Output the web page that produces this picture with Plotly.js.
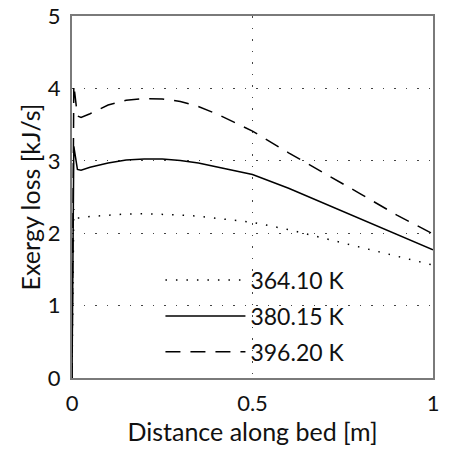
<!DOCTYPE html>
<html>
<head>
<meta charset="utf-8">
<script src="https://cdn.plot.ly/plotly-3.0.1.min.js"></script>
<style>html,body{margin:0;padding:0;background:#fff;}#chart{width:455px;height:452px;}</style>
</head>
<body>
<div id="chart"></div>
<script>
var xDist = [0, 0.005, 0.015, 0.025, 0.05, 0.1, 0.15, 0.2, 0.25, 0.3, 0.35, 0.4, 0.45, 0.5, 0.6, 0.7, 0.8, 0.9, 1.0];
var loss364 = [0, 2.33, 2.21, 2.21, 2.23, 2.25, 2.265, 2.27, 2.265, 2.25, 2.235, 2.21, 2.18, 2.15, 2.05, 1.93, 1.80, 1.68, 1.56];
var loss380 = [0, 3.20, 2.88, 2.87, 2.91, 2.97, 3.01, 3.025, 3.025, 3.005, 2.97, 2.92, 2.87, 2.81, 2.62, 2.41, 2.20, 1.99, 1.77];
var loss396 = [0, 4.05, 3.62, 3.60, 3.65, 3.77, 3.835, 3.86, 3.855, 3.82, 3.75, 3.65, 3.53, 3.41, 3.11, 2.83, 2.54, 2.25, 1.99];
var seriesNames = ['364.10 K', '380.15 K', '396.20 K'];
var xTicks = [0, 0.5, 1];
var yTicks = [0, 1, 2, 3, 4, 5];

var font = 'Lato, "Open Sans", sans-serif';
var traces = [
  {x: xDist, y: loss364, name: seriesNames[0], legendgroup: 'a', mode: 'lines', line: {color: '#000', width: 1.5, dash: '1.5px,9px'}},
  {x: xDist, y: loss380, name: seriesNames[1], legendgroup: 'b', mode: 'lines', line: {color: '#000', width: 1.5}},
  {x: xDist, y: loss396, name: seriesNames[2], legendgroup: 'c', mode: 'lines', line: {color: '#000', width: 1.5, dash: '15px,10px'}}
];
var gridCommon = {
  showgrid: true, gridcolor: '#444', gridwidth: 1, griddash: '1.5px,10px',
  zeroline: false, showline: true, linecolor: '#7a7a7a', linewidth: 2, mirror: true,
  ticks: '', tickfont: {family: font, size: 22, color: '#111'}
};
var layout = {
  width: 455, height: 452,
  margin: {l: 72, r: 22, t: 16, b: 74},
  paper_bgcolor: '#fff', plot_bgcolor: '#fff',
  font: {family: font, color: '#111'},
  showlegend: true,
  legend: {x: 0.245, y: 0.33, xanchor: 'left', yanchor: 'top', bgcolor: 'rgba(0,0,0,0)',
           font: {family: font, size: 23, color: '#111'}, itemwidth: 80, tracegroupgap: 3},
  xaxis: Object.assign({}, gridCommon, {range: [0, 1], tickvals: xTicks, ticktext: ['0', '0.5', '1'],
          ticklabelstandoff: 5,
          title: {text: 'Distance along bed [m]', font: {family: font, size: 25, color: '#111'}, standoff: 3}}),
  yaxis: Object.assign({}, gridCommon, {range: [0, 5], tickvals: yTicks,
          ticklabelstandoff: 5,
          title: {text: 'Exergy loss [kJ/s]', font: {family: font, size: 25, color: '#111'}, standoff: 0}})
};
Plotly.newPlot('chart', traces, layout, {displayModeBar: false, staticPlot: true});
</script>
</body>
</html>
